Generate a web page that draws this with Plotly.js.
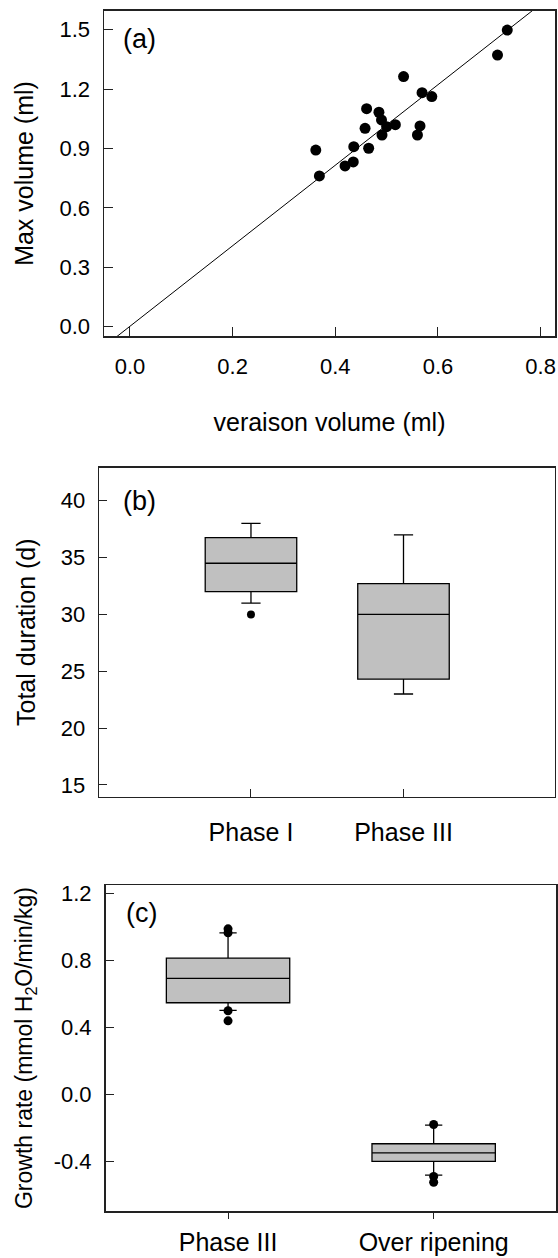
<!DOCTYPE html>
<html>
<head>
<meta charset="utf-8">
<script src="https://cdn.plot.ly/plotly-3.0.1.min.js"></script>
<style>
  html, body { margin: 0; padding: 0; background: #fff; }
  #chart { width: 558px; height: 1258px; }
</style>
</head>
<body>
<div id="chart"></div>
<script>
// ---------- Panel (a): scatter ----------
const veraisonVol = [0.362, 0.369, 0.419, 0.435, 0.436, 0.458, 0.461, 0.465, 0.485, 0.490,
                     0.500, 0.491, 0.517, 0.533, 0.560, 0.565, 0.569, 0.588, 0.716, 0.735];
const maxVol      = [0.892, 0.761, 0.812, 0.832, 0.909, 1.002, 1.101, 0.901, 1.083, 1.044,
                     1.010, 0.968, 1.020, 1.263, 0.968, 1.014, 1.182, 1.162, 1.372, 1.498];
const fitX = [-0.05, 0.83];
const fitY = [-0.10, 1.69];
const ticksAX = [0, 0.2, 0.4, 0.6, 0.8];
const tickTextAX = ['0.0', '0.2', '0.4', '0.6', '0.8'];
const ticksAY = [0, 0.3, 0.6, 0.9, 1.2, 1.5];
const tickTextAY = ['0.0', '0.3', '0.6', '0.9', '1.2', '1.5'];

// ---------- Panel (b): total duration ----------
const catsB = ['Phase I', 'Phase III'];
const q1B = [32.0, 24.3];
const medB = [34.5, 30.0];
const q3B = [36.75, 32.7];
const lowB = [31.0, 23.0];
const highB = [38.0, 37.0];
const outXB = ['Phase I'];
const outYB = [30.0];
const ticksBY = [15, 20, 25, 30, 35, 40];

// ---------- Panel (c): growth rate ----------
const catsC = ['Phase III', 'Over ripening'];
const q1C = [0.548, -0.400];
const medC = [0.694, -0.349];
const q3C = [0.815, -0.295];
const lowC = [0.502, -0.483];
const highC = [0.966, -0.184];
const outXC = ['Phase III', 'Phase III', 'Phase III', 'Phase III', 'Over ripening', 'Over ripening', 'Over ripening'];
const outYC = [0.990, 0.966, 0.500, 0.440, -0.180, -0.490, -0.525];
const ticksCY = [-0.4, 0, 0.4, 0.8, 1.2];
const tickTextCY = ['-0.4', '0.0', '0.4', '0.8', '1.2'];

const FONT = '"Liberation Sans", Arial, sans-serif';
const TICKFONT = { family: FONT, size: 22, color: '#000' };
const TITLEFONT = { family: FONT, size: 25, color: '#000' };
const CATFONT = { family: FONT, size: 25, color: '#000' };
const LINEC = '#222';

const W = 558, H = 1258;
function xd(l, r) { return [l / W, r / W]; }
function yd(top, bottom) { return [1 - bottom / H, 1 - top / H]; }

const baseAxis = {
  showline: true, mirror: true, linecolor: LINEC, linewidth: 1.5,
  showgrid: false, zeroline: false, tickcolor: LINEC, tickwidth: 1,
  tickfont: TICKFONT, fixedrange: true, ticklabeloverflow: 'allow'
};

const traces = [
  { type: 'scatter', mode: 'lines', x: fitX, y: fitY, xaxis: 'x', yaxis: 'y',
    line: { color: '#000', width: 1 }, hoverinfo: 'skip', showlegend: false },
  { type: 'scatter', mode: 'markers', x: veraisonVol, y: maxVol, xaxis: 'x', yaxis: 'y',
    marker: { color: '#000', size: 11 }, showlegend: false },

  { type: 'box', x: catsB, q1: q1B, median: medB, q3: q3B, lowerfence: lowB, upperfence: highB,
    xaxis: 'x2', yaxis: 'y2', fillcolor: '#c0c0c0', line: { color: '#000', width: 1.3 },
    width: 0.6, whiskerwidth: 0.21, boxpoints: false, showlegend: false },
  { type: 'scatter', mode: 'markers', x: outXB, y: outYB, xaxis: 'x2', yaxis: 'y2',
    marker: { color: '#000', size: 8 }, showlegend: false },

  { type: 'box', x: catsC, q1: q1C, median: medC, q3: q3C, lowerfence: lowC, upperfence: highC,
    xaxis: 'x3', yaxis: 'y3', fillcolor: '#c0c0c0', line: { color: '#000', width: 1.3 },
    width: 0.6, whiskerwidth: 0.14, boxpoints: false, showlegend: false },
  { type: 'scatter', mode: 'markers', x: outXC, y: outYC, xaxis: 'x3', yaxis: 'y3',
    marker: { color: '#000', size: 9 }, showlegend: false }
];

const layout = {
  width: W, height: H,
  margin: { l: 0, r: 0, t: 0, b: 0 },
  paper_bgcolor: '#fff', plot_bgcolor: '#fff',
  showlegend: false,
  font: { family: FONT, color: '#000' },

  xaxis: Object.assign({}, baseAxis, {
    domain: xd(104, 555), anchor: 'y', range: [-0.0506, 0.828],
    ticks: 'inside', ticklen: 9, tickvals: ticksAX, ticktext: tickTextAX,
    ticklabelstandoff: 10,
    title: { text: 'veraison volume (ml)', font: TITLEFONT, standoff: 35 }
  }),
  yaxis: Object.assign({}, baseAxis, {
    domain: yd(10.7, 336.3), anchor: 'x', range: [-0.049, 1.596],
    ticks: 'inside', ticklen: 9, tickvals: ticksAY, ticktext: tickTextAY,
    ticklabelstandoff: 8,
    title: { text: 'Max volume (ml)', font: TITLEFONT, standoff: 19 }
  }),

  xaxis2: Object.assign({}, baseAxis, {
    domain: xd(99.2, 554.5), anchor: 'y2', type: 'category', range: [-0.995, 1.99],
    ticks: 'inside', ticklen: 8,
    tickfont: CATFONT, ticklabelstandoff: 13
  }),
  yaxis2: Object.assign({}, baseAxis, {
    domain: yd(467.7, 796.7), anchor: 'x2', range: [13.97, 42.9],
    ticks: 'inside', ticklen: 8, tickvals: ticksBY,
    ticklabelstandoff: 8,
    title: { text: 'Total duration (d)', font: TITLEFONT, standoff: 18 }
  }),

  xaxis3: Object.assign({}, baseAxis, {
    domain: xd(105.5, 556), anchor: 'y3', type: 'category', range: [-0.596, 1.595],
    ticks: 'outside', ticklen: 6,
    tickfont: CATFONT, ticklabelstandoff: 2
  }),
  yaxis3: Object.assign({}, baseAxis, {
    domain: yd(885, 1211), anchor: 'x3', range: [-0.697, 1.252],
    ticks: 'inside', ticklen: 8, tickvals: ticksCY, ticktext: tickTextCY,
    ticklabelstandoff: 8,
    title: { text: 'Growth rate (mmol H<sub>2</sub>O/min/kg)', font: { family: FONT, size: 23, color: '#000' }, standoff: 14 }
  }),

  annotations: [
    { text: '(a)', xref: 'paper', yref: 'paper', x: 139 / W, y: 1 - 39 / H,
      xanchor: 'center', yanchor: 'middle', showarrow: false, font: { family: FONT, size: 27, color: '#000' } },
    { text: '(b)', xref: 'paper', yref: 'paper', x: 139.5 / W, y: 1 - 500.8 / H,
      xanchor: 'center', yanchor: 'middle', showarrow: false, font: { family: FONT, size: 27, color: '#000' } },
    { text: '(c)', xref: 'paper', yref: 'paper', x: 141.6 / W, y: 1 - 912.5 / H,
      xanchor: 'center', yanchor: 'middle', showarrow: false, font: { family: FONT, size: 27, color: '#000' } }
  ]
};

Plotly.newPlot('chart', traces, layout, { staticPlot: true, displayModeBar: false });
</script>
</body>
</html>
